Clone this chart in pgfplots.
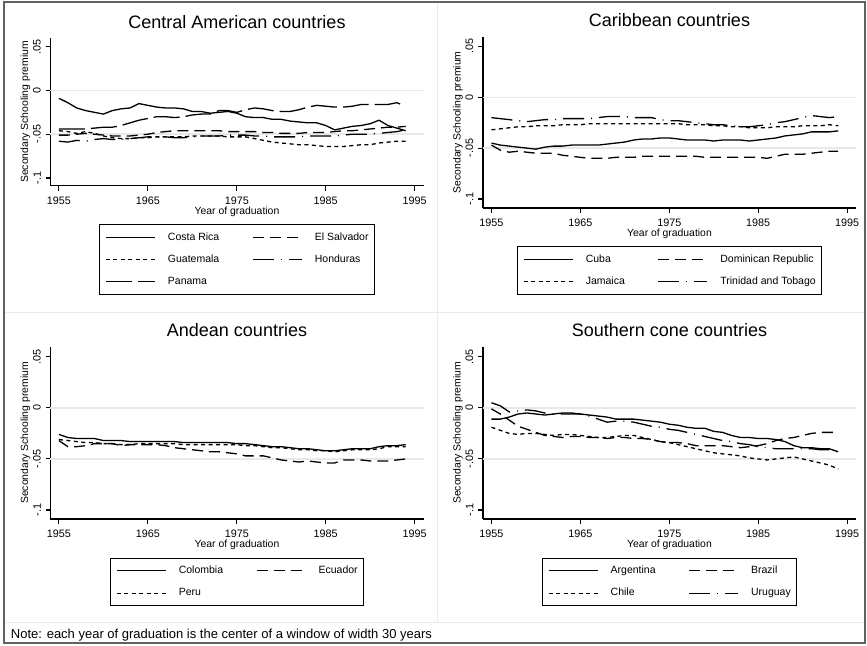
\documentclass[border=0pt]{standalone}
\usepackage{pgfplots}
\pgfplotsset{compat=1.18}
\usepackage{pgfplotstable}
\usepackage{fontspec}
\setmainfont{Liberation Sans}

% Secondary schooling premium by year of graduation (30-year centred windows)
\pgfplotstableread{
year   cr      sv      gt      hn      pa
1955 -0.009 -0.051 -0.046 -0.058 -0.044
1956 -0.014 -0.051 -0.047 -0.059 -0.044
1957 -0.020 -0.050 -0.049 -0.057 -0.044
1958 -0.023 -0.049 -0.047 -0.058 -0.044
1959 -0.025 -0.050 -0.049 -0.056 -0.043
1960 -0.027 -0.051 -0.052 -0.055 -0.042
1961 -0.023 -0.052 -0.054 -0.056 -0.042
1962 -0.021 -0.052 -0.055 -0.056 -0.040
1963 -0.020 -0.052 -0.055 -0.055 -0.037
1964 -0.015 -0.051 -0.054 -0.054 -0.034
1965 -0.017 -0.050 -0.054 -0.053 -0.032
1966 -0.019 -0.048 -0.053 -0.053 -0.030
1967 -0.020 -0.047 -0.053 -0.053 -0.030
1968 -0.020 -0.046 -0.053 -0.054 -0.031
1969 -0.021 -0.046 -0.053 -0.054 -0.030
1970 -0.024 -0.046 -0.052 -0.053 -0.028
1971 -0.024 -0.046 -0.052 -0.052 -0.027
1972 -0.026 -0.046 -0.052 -0.052 -0.027
1973 -0.025 -0.046 -0.052 -0.052 -0.023
1974 -0.024 -0.047 -0.053 -0.051 -0.023
1975 -0.026 -0.047 -0.053 -0.051 -0.025
1976 -0.030 -0.047 -0.053 -0.051 -0.022
1977 -0.031 -0.047 -0.055 -0.052 -0.020
1978 -0.031 -0.048 -0.057 -0.052 -0.021
1979 -0.033 -0.048 -0.059 -0.053 -0.023
1980 -0.033 -0.049 -0.060 -0.053 -0.024
1981 -0.035 -0.049 -0.061 -0.053 -0.024
1982 -0.036 -0.049 -0.062 -0.053 -0.022
1983 -0.037 -0.048 -0.062 -0.052 -0.019
1984 -0.037 -0.048 -0.063 -0.052 -0.017
1985 -0.040 -0.048 -0.064 -0.052 -0.018
1986 -0.045 -0.047 -0.064 -0.052 -0.019
1987 -0.043 -0.046 -0.064 -0.051 -0.019
1988 -0.041 -0.046 -0.063 -0.050 -0.018
1989 -0.040 -0.045 -0.062 -0.050 -0.016
1990 -0.038 -0.044 -0.062 -0.050 -0.016
1991 -0.034 -0.043 -0.060 -0.049 -0.016
1992 -0.040 -0.042 -0.059 -0.048 -0.016
1993 -0.043 -0.042 -0.058 -0.047 -0.014
1994 -0.046 -0.041 -0.058 -0.045 -0.018
}\central

\pgfplotstableread{
year   cu      dr      jm      tt
1955 -0.045 -0.047 -0.032 -0.020
1956 -0.047 -0.052 -0.031 -0.021
1957 -0.048 -0.054 -0.030 -0.022
1958 -0.049 -0.053 -0.029 -0.023
1959 -0.050 -0.054 -0.029 -0.024
1960 -0.051 -0.055 -0.028 -0.023
1961 -0.049 -0.055 -0.028 -0.022
1962 -0.048 -0.055 -0.028 -0.022
1963 -0.048 -0.057 -0.027 -0.021
1964 -0.047 -0.058 -0.027 -0.021
1965 -0.047 -0.059 -0.027 -0.021
1966 -0.047 -0.060 -0.026 -0.021
1967 -0.047 -0.060 -0.026 -0.020
1968 -0.046 -0.060 -0.026 -0.019
1969 -0.045 -0.059 -0.026 -0.019
1970 -0.044 -0.059 -0.026 -0.019
1971 -0.042 -0.059 -0.026 -0.020
1972 -0.041 -0.058 -0.026 -0.020
1973 -0.041 -0.058 -0.026 -0.020
1974 -0.040 -0.058 -0.026 -0.022
1975 -0.040 -0.058 -0.026 -0.023
1976 -0.041 -0.058 -0.026 -0.023
1977 -0.042 -0.058 -0.027 -0.024
1978 -0.042 -0.058 -0.027 -0.025
1979 -0.042 -0.059 -0.027 -0.026
1980 -0.043 -0.059 -0.028 -0.027
1981 -0.042 -0.059 -0.028 -0.027
1982 -0.042 -0.059 -0.029 -0.028
1983 -0.042 -0.059 -0.029 -0.029
1984 -0.043 -0.059 -0.030 -0.029
1985 -0.042 -0.059 -0.030 -0.028
1986 -0.041 -0.060 -0.030 -0.027
1987 -0.040 -0.058 -0.029 -0.025
1988 -0.038 -0.056 -0.029 -0.024
1989 -0.037 -0.056 -0.029 -0.022
1990 -0.036 -0.056 -0.028 -0.020
1991 -0.034 -0.055 -0.028 -0.018
1992 -0.034 -0.054 -0.028 -0.019
1993 -0.034 -0.053 -0.027 -0.020
1994 -0.033 -0.053 -0.028 -0.019
}\caribbean

\pgfplotstableread{
year   co      ec      pe
1955 -0.026 -0.032 -0.031
1956 -0.029 -0.038 -0.032
1957 -0.030 -0.038 -0.033
1958 -0.030 -0.037 -0.034
1959 -0.030 -0.035 -0.034
1960 -0.032 -0.035 -0.035
1961 -0.032 -0.035 -0.035
1962 -0.032 -0.037 -0.036
1963 -0.033 -0.036 -0.036
1964 -0.033 -0.036 -0.035
1965 -0.033 -0.036 -0.035
1966 -0.033 -0.036 -0.035
1967 -0.033 -0.037 -0.035
1968 -0.033 -0.039 -0.035
1969 -0.034 -0.040 -0.036
1970 -0.034 -0.041 -0.036
1971 -0.034 -0.042 -0.036
1972 -0.034 -0.043 -0.036
1973 -0.034 -0.043 -0.036
1974 -0.034 -0.044 -0.036
1975 -0.035 -0.045 -0.036
1976 -0.035 -0.047 -0.037
1977 -0.036 -0.047 -0.037
1978 -0.037 -0.047 -0.038
1979 -0.038 -0.049 -0.039
1980 -0.038 -0.051 -0.039
1981 -0.039 -0.052 -0.040
1982 -0.040 -0.053 -0.041
1983 -0.040 -0.052 -0.041
1984 -0.041 -0.053 -0.042
1985 -0.042 -0.054 -0.042
1986 -0.042 -0.054 -0.043
1987 -0.041 -0.051 -0.042
1988 -0.040 -0.051 -0.041
1989 -0.040 -0.051 -0.041
1990 -0.040 -0.052 -0.041
1991 -0.038 -0.052 -0.040
1992 -0.037 -0.052 -0.038
1993 -0.037 -0.051 -0.038
1994 -0.036 -0.050 -0.038
}\andean

\pgfplotstableread{
year   ar      br      cl      uy
1955 -0.011 -0.001 -0.019  0.005
1956 -0.011 -0.006 -0.022  0.002
1957 -0.009 -0.012 -0.025 -0.004
1958 -0.006 -0.018 -0.026 -0.003
1959 -0.005 -0.021 -0.025 -0.002
1960 -0.006 -0.024 -0.025 -0.003
1961 -0.007 -0.027 -0.026 -0.005
1962 -0.006 -0.028 -0.027 -0.006
1963 -0.005 -0.029 -0.026 -0.006
1964 -0.005 -0.028 -0.026 -0.006
1965 -0.006 -0.028 -0.027 -0.006
1966 -0.007 -0.029 -0.028 -0.008
1967 -0.008 -0.029 -0.029 -0.011
1968 -0.009 -0.030 -0.029 -0.014
1969 -0.011 -0.029 -0.028 -0.013
1970 -0.011 -0.029 -0.027 -0.013
1971 -0.011 -0.030 -0.027 -0.014
1972 -0.012 -0.030 -0.029 -0.016
1973 -0.013 -0.031 -0.031 -0.018
1974 -0.014 -0.033 -0.033 -0.019
1975 -0.016 -0.034 -0.034 -0.021
1976 -0.017 -0.034 -0.036 -0.022
1977 -0.019 -0.035 -0.038 -0.024
1978 -0.020 -0.037 -0.040 -0.026
1979 -0.020 -0.037 -0.042 -0.028
1980 -0.023 -0.037 -0.044 -0.030
1981 -0.024 -0.037 -0.045 -0.032
1982 -0.027 -0.038 -0.046 -0.033
1983 -0.029 -0.039 -0.047 -0.035
1984 -0.029 -0.038 -0.049 -0.036
1985 -0.030 -0.037 -0.050 -0.038
1986 -0.030 -0.035 -0.051 -0.039
1987 -0.031 -0.032 -0.050 -0.040
1988 -0.033 -0.030 -0.049 -0.040
1989 -0.037 -0.029 -0.048 -0.040
1990 -0.039 -0.027 -0.050 -0.040
1991 -0.039 -0.025 -0.052 -0.040
1992 -0.040 -0.024 -0.054 -0.041
1993 -0.040 -0.024 -0.056 -0.041
1994 -0.043 -0.024 -0.060 -0.043
}\southern

\tikzset{
  lsolid/.style={black, line width=1.3pt, solid},
  ldash/.style={black, line width=1.3pt, dash pattern=on 11pt off 6pt},
  lshort/.style={black, line width=1.3pt, dash pattern=on 4pt off 3.5pt},
  llongdot/.style={black, line width=1.3pt, dash pattern=on 21pt off 7pt on 1pt off 7pt},
  llong/.style={black, line width=1.3pt, dash pattern=on 26pt off 6pt},
}

\pgfplotsset{
  panel/.style={
    scale only axis, width=373pt,
    xmin=1954.05, xmax=1996, ymin=-0.1088, ymax=0.0596,
    axis x line*=bottom, axis y line*=left,
    axis line style={line width=1.1pt, black},
    tick align=outside, major tick length=5pt,
    tick style={line width=1.1pt, black},
    xtick={1955,1965,1975,1985,1995},
    xticklabels={1955,1965,1975,1985,1995},
    ytick={-0.1,-0.05,0,0.05},
    yticklabels={-.1,-.05,0,.05},
    extra y ticks={-0.05,0}, extra y tick labels={},
    extra y tick style={grid=major, major tick length=0pt},
    major grid style={draw=black!9, line width=1.5pt},
    tick label style={font=\fontsize{10.8}{12}\selectfont, inner sep=0pt},
    xticklabel style={anchor=north},
    yticklabel style={rotate=90, anchor=south},
    xticklabel shift=5.6pt, yticklabel shift=4.5pt,
    label style={font=\fontsize{10.4}{12}\selectfont},
    xlabel={Year of graduation},
    ylabel={Secondary Schooling premium},
    xlabel style={at={(axis description cs:0.5,0)}, anchor=base, yshift=-28.5pt},
    ylabel style={at={(axis description cs:-0.0603,0.5)}, anchor=base},
    title style={at={(axis description cs:0.5,1)}, anchor=base, yshift=4pt,
                 font=\fontsize{18}{20}\selectfont},
    legend columns=2, legend cell align=left,
    legend image code/.code={\draw[##1, line width=1pt] (0pt,0pt) -- (49pt,0pt);},
    legend style={at={(axis description cs:0.5,0)}, anchor=north, yshift=-38.5pt,
      draw=black, line width=1pt, fill=white,
      inner xsep=6pt, inner ysep=7.7pt, row sep=12.3pt, column sep=12.5pt,
      nodes={inner sep=0pt, text height=7.8pt, text depth=2.2pt,
             font=\fontsize{10.5}{12}\selectfont},
      /tikz/every even column/.append style={column sep=33pt}},
  }
}

\begin{document}
\begin{tikzpicture}[x=1pt, y=1pt]
  % cell separators
  \draw[black!8, line width=1pt] (437,23) -- (437,643);
  \draw[black!8, line width=1pt] (4,332) -- (865,332);
  \draw[black!8, line width=1pt] (4,23) -- (865,23);

  \begin{axis}[panel, at={(50.5pt,459.3pt)}, anchor=south west,
      height=147.4pt, title={Central American countries}]
    \addplot[lsolid]   table[x=year, y=cr] {\central};
    \addlegendentry{Costa Rica}
    \addplot[ldash]    table[x=year, y=sv] {\central};
    \addlegendentry{El Salvador}
    \addplot[lshort]   table[x=year, y=gt] {\central};
    \addlegendentry{Guatemala}
    \addplot[llongdot] table[x=year, y=hn] {\central};
    \addlegendentry{Honduras}
    \addplot[llong]    table[x=year, y=pa] {\central};
    \addlegendentry{Panama}
  \end{axis}

  \begin{axis}[panel, at={(483pt,437pt)}, anchor=south west,
      height=171.4pt, title={Caribbean countries}]
    \addplot[lsolid]   table[x=year, y=cu] {\caribbean};
    \addlegendentry{Cuba}
    \addplot[ldash]    table[x=year, y=dr] {\caribbean};
    \addlegendentry{Dominican Republic}
    \addplot[lshort]   table[x=year, y=jm] {\caribbean};
    \addlegendentry{Jamaica}
    \addplot[llongdot] table[x=year, y=tt] {\caribbean};
    \addlegendentry{Trinidad and Tobago}
  \end{axis}

  \begin{axis}[panel, at={(50.5pt,126pt)}, anchor=south west,
      height=172pt, title={Andean countries}]
    \addplot[lsolid]   table[x=year, y=co] {\andean};
    \addlegendentry{Colombia}
    \addplot[ldash]    table[x=year, y=ec] {\andean};
    \addlegendentry{Ecuador}
    \addplot[lshort]   table[x=year, y=pe] {\andean};
    \addlegendentry{Peru}
  \end{axis}

  \begin{axis}[panel, at={(483pt,126pt)}, anchor=south west,
      height=172pt, title={Southern cone countries}]
    \addplot[lsolid]   table[x=year, y=ar] {\southern};
    \addlegendentry{Argentina}
    \addplot[ldash]    table[x=year, y=br] {\southern};
    \addlegendentry{Brazil}
    \addplot[lshort]   table[x=year, y=cl] {\southern};
    \addlegendentry{Chile}
    \addplot[llongdot] table[x=year, y=uy] {\southern};
    \addlegendentry{Uruguay}
  \end{axis}

  \node[anchor=base west, inner sep=0pt, font=\fontsize{13}{15}\selectfont]
    at (10.7,6) {Note: each year of graduation is the center of a window of width 30 years};

  % outer frame
  \draw[black!62, line width=2pt] (4,2) rectangle (865,643);

  \pgfresetboundingbox
  \useasboundingbox (0,0) rectangle (867,645);
\end{tikzpicture}
\end{document}
